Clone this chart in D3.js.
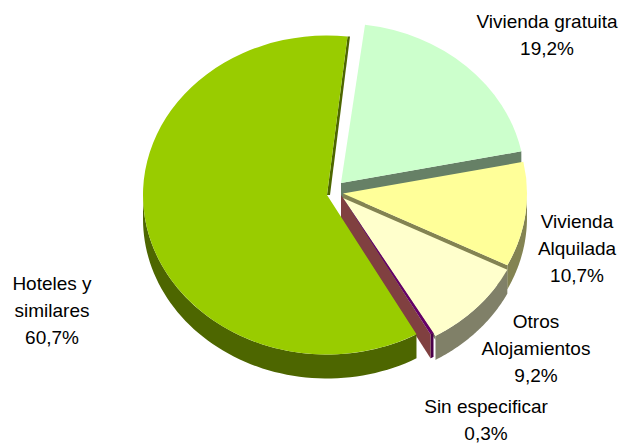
<!DOCTYPE html>
<html><head><meta charset="utf-8">
<script src="https://cdnjs.cloudflare.com/ajax/libs/d3/7.8.5/d3.min.js"></script>
<style>html,body{margin:0;background:#fff}svg{display:block}text{font-family:"Liberation Sans",Arial,sans-serif;font-size:19px;fill:#000;text-anchor:middle}</style>
</head><body><svg id="c" width="622" height="443"></svg>
<script>
const categories=["Vivienda gratuita","Vivienda Alquilada","Otros Alojamientos","Sin especificar","Hoteles y similares"];
const values=[19.2,10.7,9.2,0.3,60.7];
const valueLabels=["19,2%","10,7%","9,2%","0,3%","60,7%"];
const labelLines=[["Vivienda gratuita","19,2%"],["Vivienda","Alquilada","10,7%"],["Otros","Alojamientos","9,2%"],["Sin especificar","0,3%"],["Hoteles y","similares","60,7%"]];
const topColors=["#ccffcc","#ffff99","#ffffcc","#660066","#99cc00"];
const wallColors=["#668066","#838352","#808068","#4a004a","#4d6600"];
const sideColors=["#668066","#838352","#808068","#804040",null];
const sideDepths=[24,24,4,24,0];
const centers=[[341,183],[343,193.5],[343,198],[341,195],[327,195]];
const labelPos=[[547,28],[577,228],[536,328],[486,413],[52,290]];
// small per-edge corrections (degrees) for the picture's perspective
const startNudge=[-0.5,1.5,1.2,1.2,1.2],endNudge=[1.5,1.2,1.2,1.2,-1.6];
const rx=184,ry=159.5,depth=24,startDeg=8,lineH=[27,27,27,27,27];

const svg=d3.select("#c");
const rad=Math.PI/180;
const pie=d3.pie().sort(null).startAngle(startDeg*rad).endAngle((startDeg+360)*rad);
const arcs=pie(values).map((d,i)=>({...d,startAngle:d.startAngle+startNudge[i]*rad,endAngle:d.endAngle+endNudge[i]*rad}));
const arc=d3.arc().innerRadius(0).outerRadius(rx);
const pt=(c,a,dy=0)=>[c[0]+rx*Math.sin(a),c[1]-ry*Math.cos(a)+dy];
const line=d3.line();

arcs.forEach((d,i)=>{
  const c=centers[i];
  const a0=Math.max(d.startAngle,Math.PI/2),a1=Math.min(d.endAngle,Math.PI*1.5);
  if(a1>a0){
    const as=d3.range(0,61).map(k=>a0+(a1-a0)*k/60);
    const poly=as.map(a=>pt(c,a)).concat(as.slice().reverse().map(a=>pt(c,a,depth)));
    svg.append("path").attr("d",line(poly)+"Z").attr("fill",wallColors[i]);
  }
  if(sideColors[i]){
    const e=pt(c,d.endAngle),s=sideDepths[i];
    svg.append("path").attr("d",line([c,e,[e[0],e[1]+s],[c[0],c[1]+s]])+"Z").attr("fill",sideColors[i]);
  }
  if(i===4){
    const e=pt(c,d.endAngle);
    svg.append("path").attr("d",line([c,e,[e[0]+2.5,e[1]],[c[0]+3,c[1]]])+"Z").attr("fill",wallColors[i]);
  }
  svg.append("path").attr("d",arc(d))
    .attr("transform",`translate(${c[0]},${c[1]}) scale(1,${ry/rx})`)
    .attr("fill",topColors[i]);
});

labelLines.forEach((ls,i)=>{
  const t=svg.append("text");
  ls.forEach((s,k)=>t.append("tspan").attr("x",labelPos[i][0]).attr("y",labelPos[i][1]+k*lineH[i]).text(s));
});
</script></body></html>
